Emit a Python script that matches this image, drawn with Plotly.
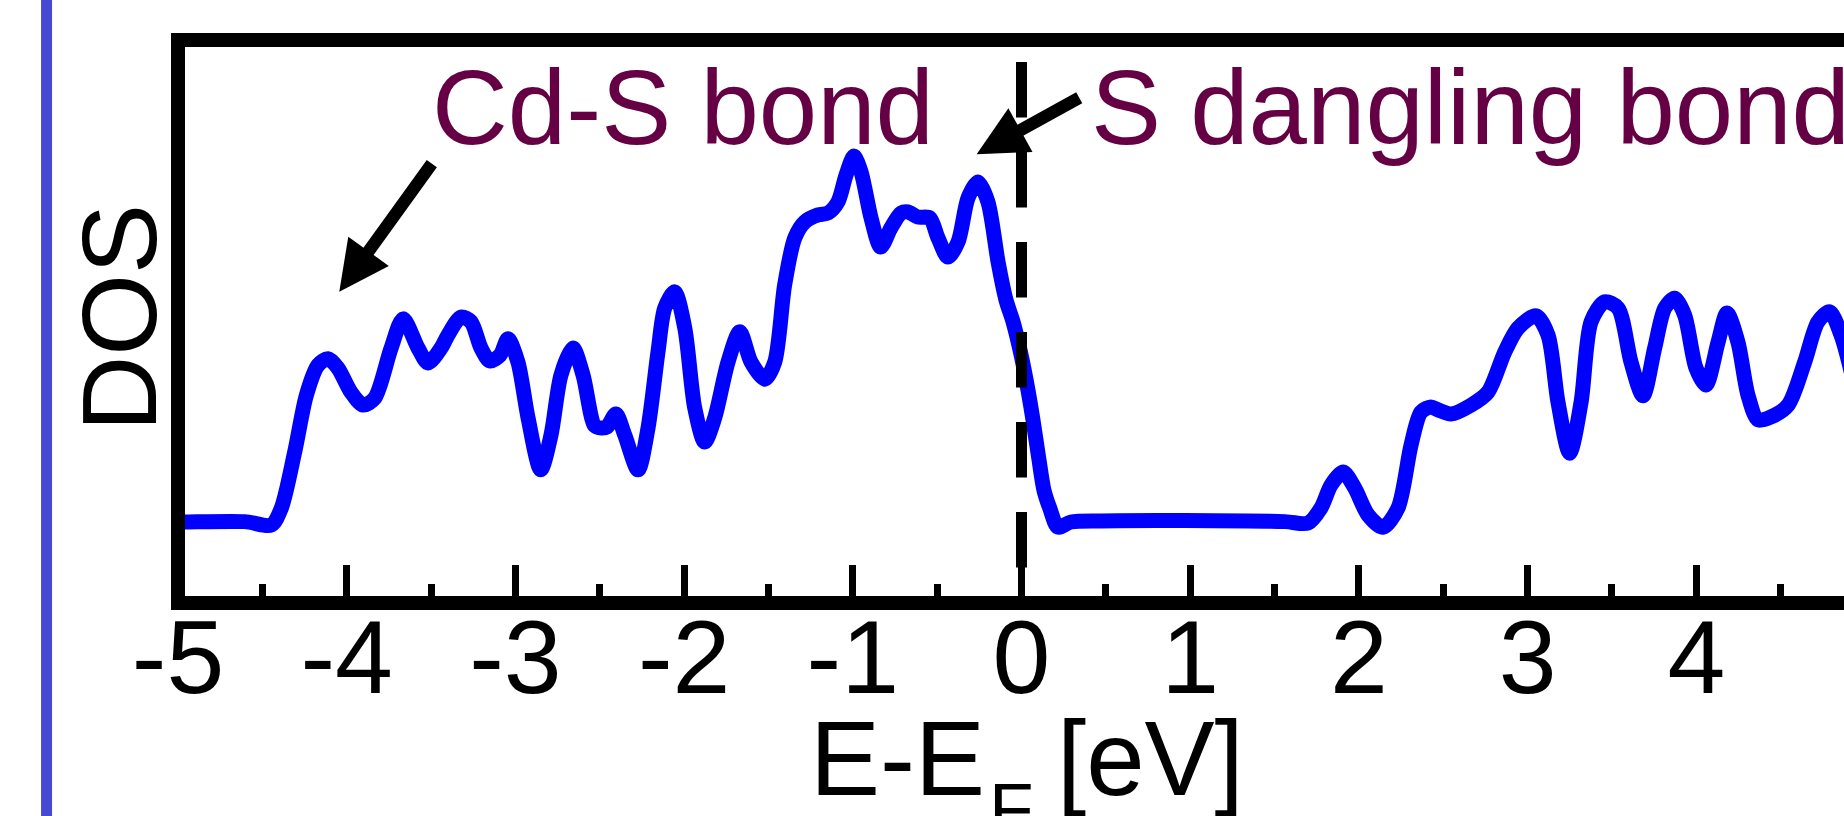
import plotly.graph_objects as go

# ---- data ----
energy = [-5.000, -4.960, -4.605, -4.447, -4.388, -4.308, -4.239, -4.170, -4.111, -4.052,
          -3.975, -3.903, -3.834, -3.737, -3.666, -3.577, -3.518, -3.441, -3.400, -3.322,
          -3.263, -3.204, -3.151, -3.091, -3.044, -2.985, -2.925, -2.850, -2.789, -2.730,
          -2.659, -2.599, -2.530, -2.490, -2.457, -2.404, -2.352, -2.273, -2.214, -2.155,
          -2.115, -2.056, -1.996, -1.937, -1.878, -1.819, -1.740, -1.670, -1.603, -1.522,
          -1.463, -1.404, -1.344, -1.285, -1.206, -1.147, -1.088, -1.040, -0.993, -0.951,
          -0.892, -0.835, -0.774, -0.714, -0.673, -0.614, -0.544, -0.495, -0.436, -0.376,
          -0.317, -0.258, -0.199, -0.139, -0.092, -0.050, -0.009, 0.033, 0.068, 0.102,
          0.133, 0.167, 0.216, 0.293, 0.471, 0.969, 1.562, 1.698, 1.775, 1.835,
          1.906, 1.975, 2.054, 2.143, 2.232, 2.309, 2.368, 2.427, 2.469, 2.546,
          2.665, 2.765, 2.864, 2.943, 3.050, 3.121, 3.180, 3.249, 3.317, 3.376,
          3.457, 3.536, 3.613, 3.684, 3.753, 3.813, 3.872, 3.931, 3.998, 4.057,
          4.129, 4.182, 4.247, 4.306, 4.366, 4.443, 4.544, 4.642, 4.721, 4.791,
          4.858, 4.923]
dos = [0.00, 0.00, 0.01, -0.08, 0.37, 1.90, 3.43, 4.24, 4.41, 4.16,
       3.51, 3.16, 3.35, 4.70, 5.49, 4.70, 4.30, 4.70, 5.05, 5.54,
       5.41, 4.70, 4.35, 4.51, 4.95, 4.32, 2.81, 1.41, 2.35, 3.97,
       4.70, 3.97, 2.60, 2.54, 2.57, 2.92, 2.35, 1.41, 2.54, 4.59,
       5.78, 6.22, 5.24, 3.08, 2.16, 2.81, 4.32, 5.14, 4.32, 3.86,
       4.32, 6.41, 7.68, 8.11, 8.30, 8.35, 8.65, 9.38, 9.89, 9.46,
       8.22, 7.43, 7.95, 8.35, 8.38, 8.24, 8.22, 7.68, 7.16, 7.57,
       8.76, 9.19, 8.65, 7.03, 6.00, 5.41, 4.65, 3.70, 2.76, 1.73,
       0.86, 0.38, -0.14, 0.00, 0.03, 0.04, 0.01, -0.03, 0.38, 1.00,
       1.35, 0.92, 0.19, -0.14, 0.38, 2.08, 2.97, 3.11, 3.03, 2.92,
       3.16, 3.51, 4.59, 5.24, 5.57, 5.05, 3.24, 1.86, 3.24, 5.41,
       5.95, 5.78, 4.32, 3.41, 4.70, 5.78, 6.05, 5.59, 4.16, 3.70,
       4.86, 5.65, 4.86, 3.43, 2.76, 2.84, 3.16, 4.32, 5.41, 5.68,
       5.05, 3.97]

tick_vals = [-5, -4, -3, -2, -1, 0, 1, 2, 3, 4]
tick_text = ["-5", "-4", "-3", "-2", "-1", "0", "1", "2", "3", "4"]
minor_vals = [-4.5, -3.5, -2.5, -1.5, -0.5, 0.5, 1.5, 2.5, 3.5, 4.5]

fermi_level = 0.0
x_range = [-5.0001, 4.8755]
y_range = [-2.0, 12.838]

# annotation arrows: (tip_x, tip_y, tail_x, tail_y)
cds_arrow = (-4.044, 6.22, -3.487, 9.74)
sdb_arrow = (-0.266, 9.94, 0.351, 11.49)
label_y = 11.19

FONT = "Liberation Sans"
TEXT_COLOR = "#660044"
FS = 105

fig = go.Figure()
fig.add_trace(go.Scatter(
    x=energy, y=dos, mode="lines",
    line=dict(color="#0000FF", width=15, shape="spline", smoothing=0.8),
    hoverinfo="skip", showlegend=False,
))

shapes = [
    # Fermi level dashed line
    dict(type="line", xref="x", yref="y", x0=fermi_level, x1=fermi_level,
         y0=12.43, y1=y_range[0], layer="above",
         line=dict(color="black", width=11, dash="55.5px,34.5px")),
    # left frame line
    dict(type="line", xref="paper", yref="paper", x0=0, x1=0,
         y0=-0.0256, y1=1.0256, layer="above",
         line=dict(color="black", width=14)),
    # slide border bar at far left
    dict(type="rect", xref="paper", yref="paper", x0=-0.0822, x1=-0.0756,
         y0=-0.41, y1=1.09, layer="above", fillcolor="#4549D6",
         line=dict(width=0)),
]

annotations = [
    dict(text="Cd-S bond", x=-3.506, y=label_y, xref="x", yref="y",
         xanchor="left", yanchor="middle", showarrow=False,
         font=dict(family=FONT, size=FS, color=TEXT_COLOR)),
    dict(text="S dangling bond", x=0.400, y=label_y, xref="x", yref="y",
         xanchor="left", yanchor="middle", showarrow=False,
         font=dict(family=FONT, size=FS, color=TEXT_COLOR)),
    # x-axis title "E-E_F [eV]" (subscript placed lower, as in the reference)
    dict(text="E-E", x=-0.2045, y=-0.1858, xref="x", yref="paper",
         xanchor="right", yanchor="top", showarrow=False,
         font=dict(family=FONT, size=FS, color="black")),
    dict(text="F", x=-0.2052, y=-0.3102, xref="x", yref="paper",
         xanchor="left", yanchor="top", showarrow=False,
         font=dict(family=FONT, size=73, color="black")),
    dict(text="[eV]", x=0.1957, y=-0.1858, xref="x", yref="paper",
         xanchor="left", yanchor="top", showarrow=False,
         font=dict(family=FONT, size=FS, color="black")),
    dict(text="DOS", x=-0.0354, y=0.5073, xref="paper", yref="paper",
         xanchor="center", yanchor="middle", textangle=-90, showarrow=False,
         font=dict(family=FONT, size=FS, color="black")),
]
for tip_x, tip_y, tail_x, tail_y in (cds_arrow, sdb_arrow):
    annotations.append(dict(
        text=" ", x=tip_x, y=tip_y, ax=tail_x, ay=tail_y,
        xref="x", yref="y", axref="x", ayref="y",
        showarrow=True, arrowhead=2, arrowsize=0.8, arrowwidth=12.5,
        arrowcolor="black", standoff=0, font=dict(size=1),
    ))

fig.update_layout(
    width=1844, height=816,
    margin=dict(l=178, r=0, t=47, b=220, pad=0),
    paper_bgcolor="white", plot_bgcolor="white",
    shapes=shapes, annotations=annotations,
    xaxis=dict(
        range=x_range, tickmode="array", tickvals=tick_vals, ticktext=tick_text,
        ticks="inside", ticklen=31, tickwidth=7, tickcolor="black",
        ticklabelstandoff=-42,
        showline=True, linewidth=14, linecolor="black", mirror=True,
        showgrid=False, zeroline=False, automargin=False,
        tickfont=dict(family=FONT, size=104, color="black"),
        minor=dict(tickmode="array", tickvals=minor_vals, ticks="inside",
                   ticklen=12, tickwidth=7, tickcolor="black", showgrid=False),
    ),
    yaxis=dict(
        range=y_range, showticklabels=False, ticks="", showline=False,
        showgrid=False, zeroline=False, automargin=False,
    ),
)

fig.write_html("out.html")
